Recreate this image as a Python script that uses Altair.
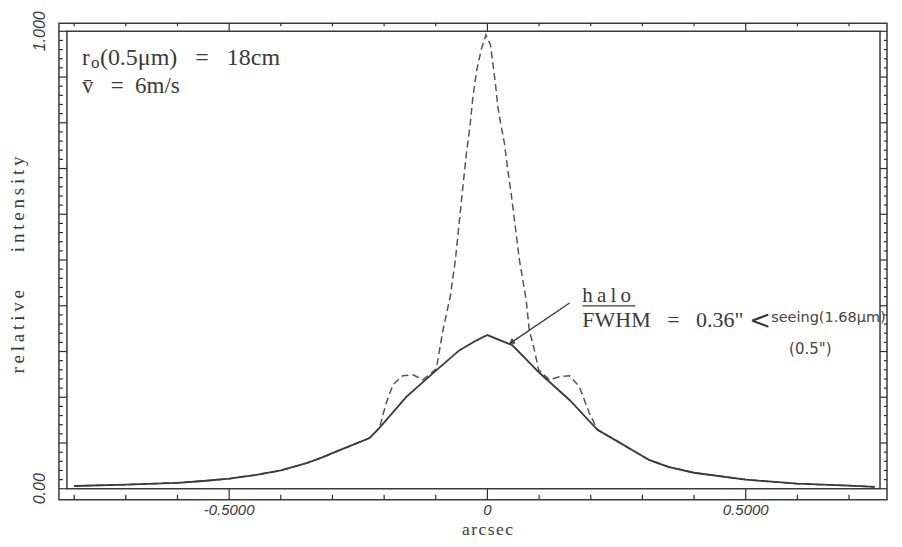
import altair as alt
import pandas as pd

INK = "#3a3a3a"
W, H = 814, 458
XDOM = [-0.814, 0.760]
YDOM = [0.0, 1.0]

# ---- data ----
halo_x = [-0.800, -0.700, -0.600, -0.550, -0.500, -0.450, -0.400, -0.350, -0.321, -0.280,
          -0.228, -0.209, -0.157, -0.103, -0.054, -0.020, 0.000, 0.048, 0.101, 0.159,
          0.213, 0.236, 0.313, 0.350, 0.400, 0.500, 0.600, 0.700, 0.750]
halo_y = [0.006, 0.009, 0.013, 0.017, 0.022, 0.030, 0.040, 0.056, 0.068, 0.087,
          0.111, 0.133, 0.201, 0.255, 0.303, 0.325, 0.336, 0.314, 0.253, 0.194,
          0.129, 0.114, 0.063, 0.048, 0.035, 0.020, 0.011, 0.007, 0.004]

dash_x = [-0.800, -0.700, -0.600, -0.550, -0.500, -0.450, -0.400, -0.350, -0.321, -0.280,
          -0.228, -0.209, -0.196, -0.183, -0.164, -0.144, -0.125, -0.099, -0.086, -0.072,
          -0.062, -0.048, -0.040, -0.034, -0.028, -0.021, -0.012, -0.003, 0.006, 0.010,
          0.016, 0.020, 0.027, 0.033, 0.039, 0.046, 0.062, 0.075, 0.081, 0.091,
          0.099, 0.120, 0.139, 0.159, 0.178, 0.197, 0.213, 0.236, 0.313, 0.350,
          0.400, 0.500, 0.600, 0.700, 0.750]
dash_y = [0.006, 0.009, 0.013, 0.017, 0.022, 0.030, 0.040, 0.056, 0.068, 0.087,
          0.111, 0.133, 0.187, 0.227, 0.247, 0.249, 0.238, 0.262, 0.347, 0.420,
          0.500, 0.655, 0.740, 0.790, 0.857, 0.913, 0.960, 0.992, 0.970, 0.935,
          0.880, 0.836, 0.790, 0.755, 0.700, 0.645, 0.500, 0.413, 0.347, 0.303,
          0.260, 0.238, 0.245, 0.247, 0.223, 0.166, 0.129, 0.114, 0.063, 0.048,
          0.035, 0.020, 0.011, 0.007, 0.004]

arrow_x = [0.159, 0.048]
arrow_y = [0.406, 0.321]

x_label_values = [-0.5, 0.0, 0.5]
x_label_text = ["-0.5000", "0", "0.5000"]
x_minor_values = [-0.8, -0.7, -0.6, -0.4, -0.3, -0.2, -0.1, 0.1, 0.2, 0.3, 0.4, 0.6, 0.7]
y_label_values = [0.0, 1.0]
y_label_text = ["0.00", "1.000"]
y_major_values = [0.0, 0.1, 0.2, 0.3, 0.4, 0.5, 0.6, 0.7, 0.8, 0.9, 1.0]
y_minor_values = [round(i * 0.02, 2) for i in range(51) if i % 5 != 0]

df_halo = pd.DataFrame({"x": halo_x, "y": halo_y})
df_dash = pd.DataFrame({"x": dash_x, "y": dash_y})
df_arrow = pd.DataFrame({"x0": [arrow_x[0]], "y0": [arrow_y[0]], "x1": [arrow_x[1]], "y1": [arrow_y[1]]})
df_xmaj = pd.DataFrame({"v": x_label_values, "t": x_label_text})
df_xmin = pd.DataFrame({"v": x_minor_values})
df_ymaj = pd.DataFrame({"v": y_major_values})
df_ymin = pd.DataFrame({"v": y_minor_values})
df_ylab = pd.DataFrame({"v": y_label_values, "t": y_label_text})
one = pd.DataFrame({"a": [0]})

xs = alt.Scale(domain=XDOM, nice=False, zero=False)
ys = alt.Scale(domain=YDOM, nice=False, zero=False)

NB = "\u00a0"

outer = alt.Chart(one).mark_rect(fillOpacity=0, stroke=INK, strokeWidth=1.5).encode(
    x=alt.value(-8), x2=alt.value(W + 7), y=alt.value(-8), y2=alt.value(H + 11))

TICK = dict(color="#2e2e2e", strokeWidth=1.2)


def xticks(df, y0, y1):
    return alt.Chart(df).mark_rule(**TICK).encode(
        x=alt.X("v:Q", scale=xs, axis=None), y=alt.value(y0), y2=alt.value(y1))


def yticks(df, x0, x1):
    return alt.Chart(df).mark_rule(**TICK).encode(
        y=alt.Y("v:Q", scale=ys, axis=None), x=alt.value(x0), x2=alt.value(x1))


rulers = [
    xticks(df_xmaj, H + 11, H), xticks(df_xmin, H + 11, H + 6),
    xticks(df_xmaj, -8, 0), xticks(df_xmin, -8, -5),
    yticks(df_ymaj, -8, 0), yticks(df_ymin, -8, -4),
    yticks(df_ymaj, W + 7, W), yticks(df_ymin, W + 7, W + 4),
]

xlabels = alt.Chart(df_xmaj).mark_text(
    font="Liberation Sans", fontStyle="italic", fontSize=15, color=INK,
    align="center", baseline="middle").encode(
    x=alt.X("v:Q", scale=xs, axis=None), y=alt.value(H + 21), text="t:N")

ylabels = alt.Chart(df_ylab).mark_text(
    font="Liberation Sans", fontStyle="italic", fontSize=16, color=INK,
    align="center", baseline="middle", angle=270).encode(
    y=alt.Y("v:Q", scale=ys, axis=None), x=alt.value(-27), text="t:N")

dashed = alt.Chart(df_dash).mark_line(color="#555555", strokeWidth=1.5, strokeDash=[7, 4]).encode(
    x=alt.X("x:Q", scale=xs, axis=None),
    y=alt.Y("y:Q", scale=ys, axis=None))

halo = alt.Chart(df_halo).mark_line(color=INK, strokeWidth=1.8).encode(
    x=alt.X("x:Q", scale=xs, axis=None),
    y=alt.Y("y:Q", scale=ys, axis=None))

arrow = alt.Chart(df_arrow).mark_rule(color=INK, strokeWidth=1.3).encode(
    x=alt.X("x0:Q", scale=xs, axis=None), y=alt.Y("y0:Q", scale=ys, axis=None),
    x2="x1:Q", y2="y1:Q")

head = alt.Chart(df_arrow).mark_point(shape="triangle", angle=236, filled=True, size=45,
                                      color=INK, opacity=1).encode(
    x=alt.X("x1:Q", scale=xs, axis=None), y=alt.Y("y1:Q", scale=ys, axis=None))


def label(text, x, y, size, font="Liberation Serif", style="normal", baseline="alphabetic",
          color=INK, align="left", angle=0):
    return alt.Chart(one).mark_text(text=text, align=align, baseline=baseline, font=font,
                                    fontStyle=style, fontSize=size, color=color,
                                    angle=angle).encode(
        x=alt.value(x), y=alt.value(y))


texts = [
    label("r", 15, 34, 23),
    label("o", 24, 37, 17),
    label("(0.5\u03bcm)" + NB * 3 + "=" + NB * 3 + "18cm", 33, 34, 24),
    label("v\u0304" + NB * 3 + "=" + NB * 2 + "6m/s", 15, 62, 23),
    label("h\u2009a\u2009l\u2009o", 516, 271, 21),
    label("FWHM" + NB * 3 + "=" + NB * 3 + "0.36\"", 516, 296, 22),
    label("<", 683, 290, 26, font="DejaVu Sans", baseline="middle"),
    label("seeing(1.68\u03bcm)", 705, 287, 14.5, font="DejaVu Sans", baseline="middle", color="#444"),
    label("(0.5\")", 723, 318, 15, font="DejaVu Sans", baseline="middle", color="#444"),
    label("a\u200ar\u200ac\u200as\u200ae\u200ac", 421, 504, 17.5, align="center"),
    label("r\u2009e\u2009l\u2009a\u2009t\u2009i\u2009v\u2009e\u2003\u2003i\u2009n\u2009t\u2009e\u2009n\u2009s\u2009i\u2009t\u2009y",
          -49, 234, 19, align="center", baseline="middle", angle=270),
]

underline = alt.Chart(one).mark_rule(color=INK, strokeWidth=1.3).encode(
    x=alt.value(516), x2=alt.value(569), y=alt.value(275))

chart = alt.layer(outer, *rulers, xlabels, ylabels, dashed, halo, arrow, head, underline,
                  *texts).properties(
    width=W, height=H,
    autosize=alt.AutoSizeParams(type="none"),
    padding={"left": 59, "top": 23, "right": 14, "bottom": 50},
    background="white",
).configure_view(stroke=INK, strokeWidth=1.5)

chart.save("out.html", embed_options={"renderer": "svg", "actions": False})
